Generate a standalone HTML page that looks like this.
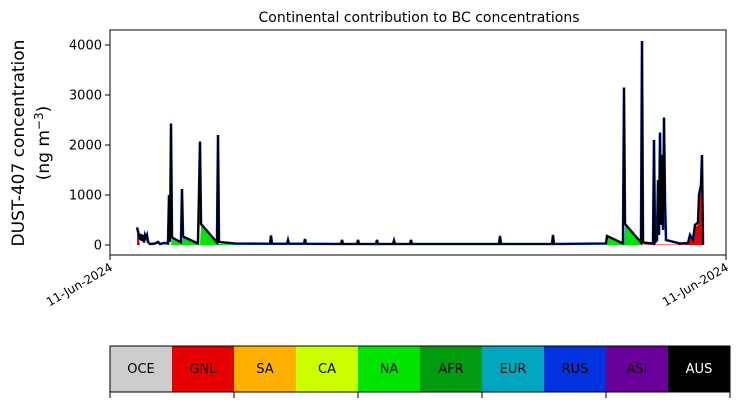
<!DOCTYPE html>
<html><head><meta charset="utf-8"><style>
body{margin:0;background:#fff;font-family:"Liberation Sans","DejaVu Sans",sans-serif;}
svg text{font-family:"DejaVu Sans","Liberation Sans",sans-serif;}
</style></head><body>
<svg id="chart" width="739" height="402" viewBox="0 0 739 402" xmlns="http://www.w3.org/2000/svg">
<rect width="739" height="402" fill="#fff"/>
<text x="419" y="22" font-size="14" text-anchor="middle">Continental contribution to BC concentrations</text>
<g id="plot"></g>
<rect x="110" y="30" width="616" height="225" fill="none" stroke="#000" stroke-width="1"/>
<g id="yaxis"></g>
<text transform="translate(24,143) rotate(-90)" font-size="17" text-anchor="middle">DUST-407 concentration</text>
<text transform="translate(49,143) rotate(-90)" font-size="17" text-anchor="middle">(ng m<tspan dy="-6" font-size="12">−3</tspan><tspan dy="6">)</tspan></text>
<line x1="110" y1="255" x2="110" y2="260" stroke="#000"/>
<line x1="726" y1="255" x2="726" y2="260" stroke="#000"/>
<text transform="translate(109,262) rotate(-30)" font-size="12" text-anchor="end" dominant-baseline="hanging">11-Jun-2024</text>
<text transform="translate(725,262) rotate(-30)" font-size="12" text-anchor="end" dominant-baseline="hanging">11-Jun-2024</text>
<g id="legend"></g>
</svg>
<script>
const regions=["OCE","GNL","SA","CA","NA","AFR","EUR","RUS","ASI","AUS"];
const regionColors=["#cccccc","#e50000","#ffb000","#ccff00","#00e400","#009b10","#00a6bd","#0033dd","#6a0099","#000000"];
const yTicks=[0,1000,2000,3000,4000];
// time index (0..616 across axis)
const tx=[27,29,30,31,32,33,34,35,36,37,38,40,45,48,50,54,58,59,60,61,62,71,72,73,88,90,91,107,108,109,125,
160,161,162,177,178,179,194,195,196,231,232,233,247,248,249,266,267,268,283,284,285,300,301,302,389,390,391,442,443,444,
496,497,513,514,515,531,532,533,543,544,545,547,548,549,550,551,552,553,554,555,556,570,578,580,583,585,588,589,591,592,593];
const total=[350,200,100,220,80,200,50,200,150,200,60,20,30,60,20,40,30,1000,60,2430,150,50,1120,170,30,2070,420,50,2200,60,30,
25,190,25,25,100,25,25,120,25,20,100,20,20,100,20,20,100,20,20,90,20,20,100,20,20,180,20,20,200,20,
30,180,30,3150,420,50,4080,50,30,2100,50,100,1300,200,2250,400,1800,300,2550,900,100,30,40,200,100,400,450,1000,1200,1800,0];
const gnl=[300,100,0,0,0,0,0,0,0,0,0,0,0,0,0,0,0,0,0,0,0,0,0,0,0,0,0,0,0,0,0,
0,0,0,0,0,0,0,0,0,0,0,0,0,0,0,0,0,0,0,0,0,0,0,0,0,0,0,0,0,0,
0,0,0,0,0,0,0,10,10,10,10,10,10,10,10,10,10,10,10,10,10,10,20,150,80,350,400,950,1100,1650,0];
const na=[0,0,0,0,0,0,0,0,0,0,0,0,0,0,0,0,0,0,0,0,120,20,0,150,20,0,380,30,0,20,10,
0,0,0,0,0,0,0,0,0,0,0,0,0,0,0,0,0,0,0,0,0,0,0,0,0,0,0,0,0,0,
0,150,20,0,380,30,0,0,0,0,0,0,0,0,0,0,0,0,0,0,0,0,0,0,0,0,0,0,0,0,0];
const N=Math.min(tx.length,total.length,gnl.length,na.length);
const X=v=>110+v, Y=v=>245-v*0.05;
const NS="http://www.w3.org/2000/svg";
const plot=document.getElementById('plot');
function mk(t,a,p){const e=document.createElementNS(NS,t);for(const k in a)e.setAttribute(k,a[k]);p.appendChild(e);return e;}
function area(lo,hi,color,name){
  let d='M'+X(tx[0])+','+Y(lo(0));
  for(let i=0;i<N;i++)d+='L'+X(tx[i])+','+Y(hi(i));
  for(let i=N-1;i>=0;i--)d+='L'+X(tx[i])+','+Y(lo(i));
  const p=mk('path',{d:d+'Z',fill:color,stroke:'none'},plot);
  
  
}
area(i=>0,i=>Math.min(gnl[i],total[i]),'#e50000','area-gnl');
area(i=>Math.min(gnl[i],total[i]),i=>Math.min(gnl[i]+na[i],total[i]),'#00e400','area-na');
let d='';
for(let i=0;i<N;i++)d+=(i?'L':'M')+X(tx[i])+','+Y(total[i]);
const under=mk('path',{d:d,fill:'none',stroke:'#0033dd','stroke-width':2.6},plot);


const line=mk('path',{d:d,fill:'none',stroke:'#000','stroke-width':1.8},plot);


const ya=document.getElementById('yaxis');
yTicks.forEach(v=>{
  const l=mk('line',{x1:105,x2:110,y1:Y(v),y2:Y(v),stroke:'#000'},ya);
  
  
  const t=mk('text',{x:102,y:Y(v)+4.5,'font-size':13,'text-anchor':'end'},ya);
  t.textContent=v;
  
  
});
const lg=document.getElementById('legend');
const cw=62;
regions.forEach((r,i)=>{
  const c=mk('rect',{x:110+i*cw,y:346,width:cw,height:46,fill:regionColors[i]},lg);
  
  
  const t=mk('text',{x:110+i*cw+cw/2,y:373,'font-size':13,'text-anchor':'middle',fill:r==='AUS'?'#fff':'#000'},lg);
  t.textContent=r;
  
  
});
const fr=mk('rect',{x:110,y:346,width:620,height:46,fill:'none',stroke:'#000'},lg);


for(let k=0;k<=5;k++){
  const l=mk('line',{x1:110+k*124,x2:110+k*124,y1:392,y2:398,stroke:'#000'},lg);
  
  
}
</script>
</body></html>
